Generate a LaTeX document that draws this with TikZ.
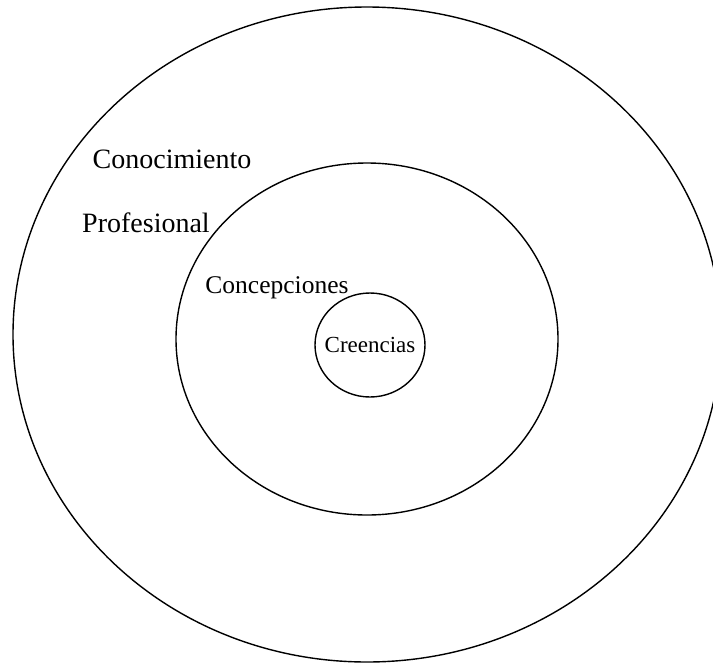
\documentclass[tikz,border=0pt]{standalone}
\usepackage{fontspec}
\setmainfont{Liberation Serif}
\usetikzlibrary{shapes.geometric}

\tikzset{
    ring/.style={draw, ellipse, line width=1.4pt, inner sep=0pt},
    ringlabel/.style={anchor=base, inner sep=0pt}
}

\begin{document}
\begin{tikzpicture}[x=1pt, y=-1pt]
    \useasboundingbox (0,0) rectangle (713,665);
    \clip (0,0) rectangle (713,665);
    % Three nested rings
    \node[ring, minimum width=708pt, minimum height=655pt] (outer) at (367,334.5) {};
    \node[ring, minimum width=382pt, minimum height=352pt] (middle) at (367,339) {};
    \node[ring, minimum width=110pt, minimum height=104pt, font=\fontsize{23}{26}\selectfont] (inner) at (370,345) {\makebox[0pt]{Creencias}};
    
    % Labels
    \node[ringlabel, font=\fontsize{28}{32}\selectfont] (conoc) at (172,168) {Conocimiento};
    \node[ringlabel, font=\fontsize{28}{32}\selectfont] (prof) at (146,232) {Profesional};
    \node[ringlabel, font=\fontsize{25.5}{30}\selectfont] (concep) at (277,293) {Concepciones};
\end{tikzpicture}
\end{document}
